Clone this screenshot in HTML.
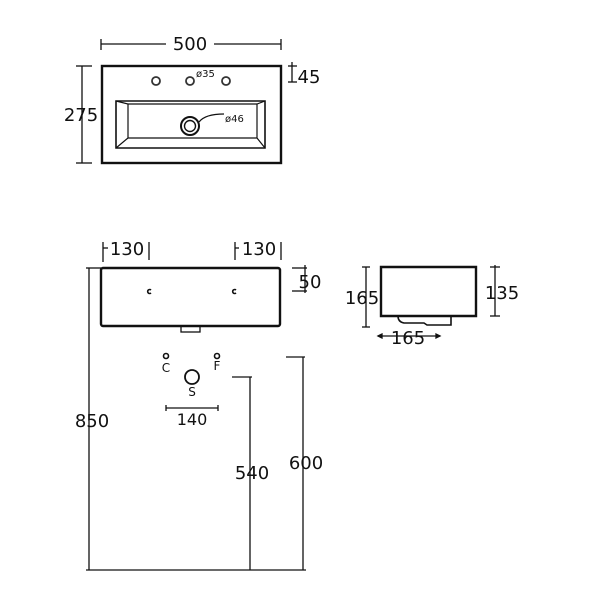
<!DOCTYPE html>
<html><head><meta charset="utf-8"><style>
html,body{margin:0;padding:0;background:#fff;}
svg{display:block}
text{font-family:"DejaVu Sans","Liberation Sans",sans-serif;fill:#111;}
</style></head><body>
<svg width="600" height="600" viewBox="0 0 600 600" xmlns="http://www.w3.org/2000/svg">
<g stroke="#111" fill="none" stroke-width="1.3">
<!-- top view -->
<rect x="102" y="66" width="179" height="97" stroke-width="2.4"/>
<path d="M116 101 H265 V148 H116 Z" stroke-width="1.6"/>
<path d="M116 101 L128 104 H257 L265 101 M128 104 V138 H257 V104 M116 148 L128 138 M265 148 L257 138" stroke-width="1.2"/>
<circle cx="156" cy="81" r="4" stroke-width="1.8" stroke="#333"/>
<circle cx="190" cy="81" r="4" stroke-width="1.8" stroke="#333"/>
<circle cx="226" cy="81" r="4" stroke-width="1.8" stroke="#333"/>
<circle cx="190" cy="126" r="9" stroke-width="2"/>
<circle cx="190" cy="126" r="5.5" stroke-width="1.4"/>
<path d="M199 122 Q205 114 224 114"/>
<line x1="101" y1="44" x2="166" y2="44"/><line x1="214" y1="44" x2="281" y2="44"/>
<line x1="101" y1="39" x2="101" y2="50"/><line x1="281" y1="39" x2="281" y2="50"/>
<line x1="82" y1="66" x2="82" y2="163"/><line x1="76" y1="66" x2="92" y2="66"/><line x1="76" y1="163" x2="92" y2="163"/>
<line x1="292" y1="62" x2="292" y2="82"/><line x1="288" y1="66" x2="297" y2="66"/><line x1="288" y1="82" x2="297" y2="82"/>
<!-- front view -->
<rect x="101" y="268" width="179" height="58" rx="2" stroke-width="2.4"/>
<rect x="181" y="326" width="19" height="6"/>
<path d="M151 290 a2 2 0 1 0 0 3" stroke-width="1.6"/><path d="M236 290 a2 2 0 1 0 0 3" stroke-width="1.6"/>
<line x1="103" y1="248" x2="108" y2="248"/><line x1="103" y1="242" x2="103" y2="262"/><line x1="149" y1="242" x2="149" y2="260"/>
<line x1="235" y1="248" x2="239" y2="248"/><line x1="235" y1="242" x2="235" y2="260"/><line x1="281" y1="242" x2="281" y2="260"/>
<line x1="292" y1="268" x2="307" y2="268"/><line x1="292" y1="291" x2="307" y2="291"/><line x1="305" y1="265" x2="305" y2="293"/>
<line x1="89" y1="268" x2="89" y2="570"/><line x1="86" y1="268" x2="101" y2="268"/>
<line x1="86" y1="570" x2="306" y2="570"/>
<line x1="250" y1="377" x2="250" y2="570"/><line x1="232" y1="377" x2="252" y2="377"/>
<line x1="303" y1="357" x2="303" y2="570"/><line x1="286" y1="357" x2="305" y2="357"/>
<circle cx="166" cy="356" r="2.5" stroke-width="1.6"/><circle cx="217" cy="356" r="2.5" stroke-width="1.6"/>
<circle cx="192" cy="377" r="7" stroke-width="1.8"/>
<line x1="166" y1="408" x2="218" y2="408"/><line x1="166" y1="405" x2="166" y2="411"/><line x1="218" y1="405" x2="218" y2="411"/>
<!-- side view -->
<path d="M381 267 H476 V316 H381 Z" stroke-width="2.4"/>
<path d="M398 316 Q398 322 404 323 H424 L427 325 H451 V316" stroke-width="1.6"/>
<line x1="366" y1="267" x2="366" y2="327"/><line x1="362" y1="267" x2="370" y2="267"/><line x1="362" y1="327" x2="370" y2="327"/>
<line x1="495" y1="265" x2="495" y2="316"/><line x1="490" y1="267" x2="500" y2="267"/><line x1="490" y1="316" x2="500" y2="316"/>
<line x1="378" y1="336" x2="440" y2="336"/>
<path d="M378 336 l4 -2 v4 z M440 336 l-4 -2 v4 z" fill="#111"/>
</g>
<g font-size="18">
<text x="190" y="50" text-anchor="middle">500</text>
<text x="81" y="121" text-anchor="middle">275</text>
<text x="309" y="83" text-anchor="middle">45</text>
<text x="127" y="255" text-anchor="middle">130</text>
<text x="259" y="255" text-anchor="middle">130</text>
<text x="310" y="288" text-anchor="middle">50</text>
<text x="92" y="427" text-anchor="middle">850</text>
<text x="252" y="479" text-anchor="middle">540</text>
<text x="306" y="469" text-anchor="middle">600</text>
<text x="192" y="425" text-anchor="middle" font-size="16">140</text>
<text x="362" y="304" text-anchor="middle">165</text>
<text x="502" y="299" text-anchor="middle">135</text>
<text x="408" y="344" text-anchor="middle">165</text>
</g>
<g font-size="10">
<text x="196" y="77">ø35</text>
<text x="225" y="122">ø46</text>
<text x="166" y="372" text-anchor="middle" font-size="12">C</text>
<text x="217" y="370" text-anchor="middle" font-size="12">F</text>
<text x="192" y="396" text-anchor="middle" font-size="12">S</text>
</g>
</svg>
</body></html>
